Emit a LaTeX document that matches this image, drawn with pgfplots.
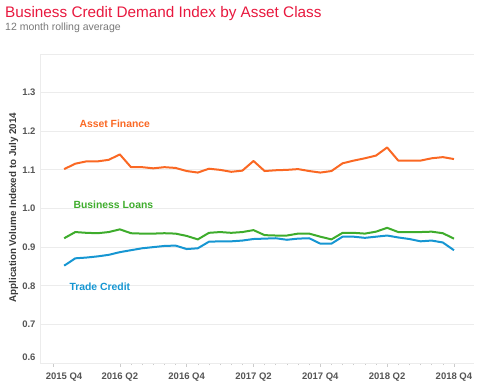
\documentclass[border=0pt]{standalone}
\usepackage{fontspec}
\setmainfont{Liberation Sans}
\usepackage{pgfplots}
\pgfplotsset{compat=1.18}
\definecolor{af}{RGB}{250,104,35}
\definecolor{bl}{RGB}{62,172,44}
\definecolor{tc}{RGB}{22,150,210}
\definecolor{ttl}{RGB}{232,24,62}
\definecolor{subc}{RGB}{120,120,120}
\definecolor{tickc}{RGB}{85,85,85}
\definecolor{gridc}{RGB}{236,236,236}
\begin{document}
\begin{tikzpicture}
\useasboundingbox (0pt,0pt) rectangle (477pt,385pt);
\node[anchor=base west, inner sep=0, text=ttl, font=\fontsize{15.3}{18}\selectfont] at (5pt,367pt) {Business Credit Demand Index by Asset Class};
\node[anchor=base west, inner sep=0, text=subc, font=\fontsize{10.5}{12}\selectfont] at (5pt,354pt) {12 month rolling average};
\node[rotate=90, inner sep=0, text=tickc!70!black, font=\fontsize{9.8}{12}\bfseries\selectfont] at (13.5pt,177.5pt) {Application Volume Indexed to July 2014};
\begin{axis}[
  at={(40pt,22pt)}, anchor=south west, scale only axis,
  width=434pt, height=309pt,
  xmin=-1.17, xmax=37.8, ymin=0.6, ymax=1.4,
  axis lines=left,
  axis line style={draw=none, -},
  grid=major, major grid style={draw=gridc, line width=0.8pt},
  xmajorgrids=false,
  /pgf/number format/assume math mode=true,
  xtick={6,12,18,24,30,36},
  xticklabels={2016 Q2,2016 Q4,2017 Q2,2017 Q4,2018 Q2,2018 Q4},
  extra x ticks={0},
  extra x tick labels={2015 Q4},
  extra x tick style={xticklabel style={xshift=11pt}},
  minor x tick num=5,
  xtick align=outside,
  x tick style={draw=gridc!70!gray, line width=0.6pt},
  major tick length=4pt, minor tick length=2.5pt,
  ytick={0.7,0.8,0.9,1.0,1.1,1.2,1.3,1.4},
  yticklabels={0.7,0.8,0.9,1.0,1.1,1.2,1.3,{}},
  extra y ticks={0.6},
  extra y tick labels={0.6},
  extra y tick style={yticklabel style={yshift=5.3pt}},
  y tick style={draw=none},
  tick label style={font=\fontsize{9.5}{11}\bfseries\selectfont, text=tickc},
  xticklabel style={yshift=-2pt},
  yticklabel style={xshift=1pt},
  every axis plot/.append style={line width=2pt, line join=round, no markers},
]
\draw[gridc, line width=0.8pt] (rel axis cs:0,1) -- (rel axis cs:0,0) -- (rel axis cs:1,0);
\addplot[af] coordinates {
(1,1.102)(2,1.116)(3,1.122)(4,1.122)(5,1.126)(6,1.140)(7,1.107)(8,1.107)(9,1.104)(10,1.107)
(11,1.105)(12,1.097)(13,1.093)(14,1.103)(15,1.100)(16,1.095)(17,1.098)(18,1.123)(19,1.097)(20,1.099)
(21,1.100)(22,1.102)(23,1.097)(24,1.093)(25,1.097)(26,1.117)(27,1.124)(28,1.130)(29,1.137)(30,1.158)
(31,1.124)(32,1.124)(33,1.124)(34,1.130)(35,1.133)(36,1.128)};
\addplot[bl] coordinates {
(1,0.923)(2,0.939)(3,0.937)(4,0.936)(5,0.939)(6,0.946)(7,0.936)(8,0.935)(9,0.935)(10,0.936)
(11,0.935)(12,0.929)(13,0.920)(14,0.937)(15,0.939)(16,0.937)(17,0.939)(18,0.944)(19,0.931)(20,0.930)
(21,0.930)(22,0.935)(23,0.935)(24,0.927)(25,0.920)(26,0.937)(27,0.937)(28,0.935)(29,0.940)(30,0.950)
(31,0.939)(32,0.939)(33,0.939)(34,0.940)(35,0.936)(36,0.922)};
\addplot[tc] coordinates {
(1,0.852)(2,0.871)(3,0.873)(4,0.876)(5,0.880)(6,0.887)(7,0.892)(8,0.897)(9,0.900)(10,0.903)
(11,0.904)(12,0.895)(13,0.897)(14,0.914)(15,0.915)(16,0.915)(17,0.917)(18,0.921)(19,0.922)(20,0.923)
(21,0.919)(22,0.922)(23,0.923)(24,0.909)(25,0.909)(26,0.927)(27,0.927)(28,0.924)(29,0.927)(30,0.930)
(31,0.925)(32,0.921)(33,0.915)(34,0.917)(35,0.912)(36,0.892)};
\end{axis}
\node[anchor=west, inner sep=0, text=af, font=\fontsize{10.4}{12}\bfseries\selectfont] at (79.3pt,261.7pt) {Asset Finance};
\node[anchor=west, inner sep=0, text=bl, font=\fontsize{10.4}{12}\bfseries\selectfont] at (73.3pt,180pt) {Business Loans};
\node[anchor=west, inner sep=0, text=tc, font=\fontsize{10.4}{12}\bfseries\selectfont] at (69.3pt,98.3pt) {Trade Credit};
\end{tikzpicture}
\end{document}
